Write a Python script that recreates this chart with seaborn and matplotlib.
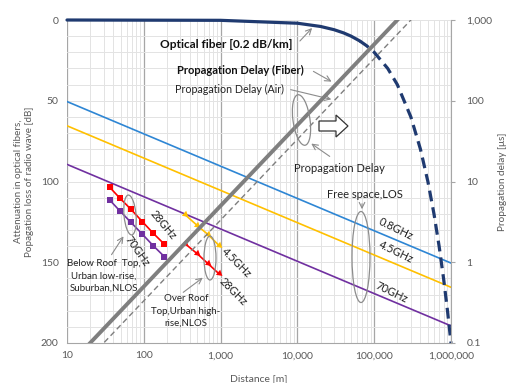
import numpy as np
import pandas as pd
import seaborn as sns
import matplotlib.pyplot as plt
from matplotlib.patches import Ellipse, FancyArrow
from matplotlib.ticker import FixedLocator, NullFormatter

# Free space (LOS) propagation loss [dB]
dist_fs = [10, 100, 1000, 10000, 100000, 1000000]
loss_08ghz = [50.5, 70.5, 90.5, 110.5, 130.5, 150.5]
loss_45ghz = [65.5, 85.5, 105.5, 125.5, 145.5, 165.5]
loss_70ghz = [89.4, 109.4, 129.4, 149.4, 169.4, 189.4]

# Optical fiber attenuation [dB]
fiber_dist_solid = [10, 1000, 10000, 20000, 30000, 40000, 50000, 65000]
fiber_att_solid = [0.002, 0.2, 2, 4, 6, 8, 10, 13]
fiber_dist_dash = [65000, 80000, 100000, 150000, 200000, 300000, 400000,
                   500000, 600000, 700000, 800000, 900000, 1000000]
fiber_att_dash = [13, 16, 20, 30, 40, 60, 80, 100, 120, 140, 160, 180, 200]

# Propagation delay [us]
delay_dist = [10, 100, 1000, 10000, 100000, 1000000]
delay_fiber = [0.05, 0.5, 5, 50, 500, 5000]
delay_air = [0.0333, 0.333, 3.33, 33.3, 333, 3333]

# Below roof top, NLOS
brt_dist = [36, 49, 68, 96, 133, 186]
brt_28ghz = [103.6, 110.4, 117.2, 124.9, 132.1, 138.9]
brt_70ghz = [111.5, 118.3, 125.3, 132.7, 139.8, 146.6]

# Over roof top, NLOS
ort_dist = [340, 490, 680, 940]
ort_45ghz = [120.3, 127.0, 132.7, 139.3]
ort_28ghz = [138.3, 144.5, 150.7, 156.9]

x_ticks = [10, 100, 1000, 10000, 100000, 1000000]
x_labels = ['10', '100', '1,000', '10,000', '100,000', '1,000,000']
y_ticks = [0, 50, 100, 150, 200]
y2_ticks = [0.1, 1, 10, 100, 1000]
y2_labels = ['0.1', '1', '10', '100', '1,000']

sns.set_style('white')
plt.rcParams['font.family'] = ['Lato', 'DejaVu Sans']

BLUE = '#2E86D4'
YELLOW = '#FFC000'
PURPLE = '#7030A0'
RED = '#FF0000'
NAVY = '#1F3A70'
GREY = '#7F7F7F'
TXT = '#595959'

fig = plt.figure(figsize=(5.1, 3.83), dpi=100)
ax = fig.add_axes([67 / 510, 1 - 343 / 383, (451 - 67) / 510, (343 - 20) / 383])
ax2 = ax.twinx()

def pt(px, py):
    # pixel position (from top-left) to inches for fig.dpi_scale_trans
    return (px / 100, (383 - py) / 100)

tr = fig.dpi_scale_trans

ax.set_xscale('log')
ax.set_xlim(10, 1000000)
ax.set_ylim(200, 0)

# grid
ax.xaxis.set_minor_locator(FixedLocator([m * 10 ** e for e in range(1, 6) for m in range(2, 10)]))
ax.xaxis.set_minor_formatter(NullFormatter())
ax.yaxis.set_minor_locator(FixedLocator(list(range(0, 201, 10))))
ax.grid(which='major', axis='x', color='#A6A6A6', lw=0.9)
ax.grid(which='minor', axis='x', color='#E3E3E3', lw=0.7)
ax.grid(which='both', axis='y', color='#E3E3E3', lw=0.7)
ax.set_axisbelow(True)

# free space lines
fs = pd.DataFrame({'d': dist_fs, '0.8': loss_08ghz, '4.5': loss_45ghz, '70': loss_70ghz})
sns.lineplot(data=fs, x='d', y='0.8', ax=ax, color=BLUE, lw=1.2)
sns.lineplot(data=fs, x='d', y='4.5', ax=ax, color=YELLOW, lw=1.2)
sns.lineplot(data=fs, x='d', y='70', ax=ax, color=PURPLE, lw=1.2)

# below roof top
sns.lineplot(x=brt_dist, y=brt_28ghz, ax=ax, color=RED, lw=1.2, marker='s',
             markersize=4.6, markeredgewidth=0)
sns.lineplot(x=brt_dist, y=brt_70ghz, ax=ax, color=PURPLE, lw=1.2, marker='s',
             markersize=4.6, markeredgewidth=0)

# over roof top
tri = (3, 0, -130)
sns.lineplot(x=ort_dist, y=ort_45ghz, ax=ax, color=YELLOW, lw=1.2, marker=tri,
             markersize=5.5, markeredgewidth=0)
sns.lineplot(x=ort_dist, y=ort_28ghz, ax=ax, color=RED, lw=1.2, marker=tri,
             markersize=5.5, markeredgewidth=0)

# optical fiber attenuation
sns.lineplot(x=fiber_dist_solid, y=fiber_att_solid, ax=ax, color=NAVY, lw=2.3,
             clip_on=False, zorder=5)
sns.lineplot(x=fiber_dist_dash, y=fiber_att_dash, ax=ax, color=NAVY, lw=2.3,
             linestyle=(0, (3.4, 1.9)), clip_on=False, zorder=5)

ax.set_xticks(x_ticks)
ax.set_xticklabels(x_labels)
ax.set_yticks(y_ticks)
ax.tick_params(axis='both', which='both', length=0, labelsize=7.5, labelcolor=TXT, pad=6)
ax.set_xlabel('Distance [m]', fontsize=7.5, color=TXT, labelpad=10)
ax.set_ylabel('Attenuation in optical fibers,\nPopagation loss of radio wave [dB]',
              fontsize=7.1, color=TXT, linespacing=1.35)
ax.yaxis.set_label_coords(-0.085, 0.5)
for s in ['top', 'left', 'right']:
    ax.spines[s].set_visible(False)
ax.spines['bottom'].set_color('#A6A6A6')
ax.spines['bottom'].set_linewidth(0.8)

# propagation delay (right axis)
ax2.set_yscale('log')
sns.lineplot(x=delay_dist, y=delay_fiber, ax=ax2, color=GREY, lw=2.8)
sns.lineplot(x=delay_dist, y=delay_air, ax=ax2, color=GREY, lw=1.0, linestyle=(0, (4, 2.5)))
ax2.set_xlim(10, 1000000)
ax2.set_ylim(0.1, 1000)
ax2.set_yticks(y2_ticks)
ax2.set_yticklabels(y2_labels)
ax2.yaxis.set_minor_locator(FixedLocator([]))
ax2.tick_params(axis='y', which='major', length=3, color='#A6A6A6', labelsize=7.5,
                labelcolor=TXT, pad=8, direction='out')
ax2.set_ylabel('Propagation delay [\u03bcs]', fontsize=7.2, color=TXT)
ax2.yaxis.set_label_coords(1.122, 0.5)
for s in ['top', 'left', 'bottom']:
    ax2.spines[s].set_visible(False)
ax2.spines['right'].set_color('#A6A6A6')
ax2.spines['right'].set_linewidth(0.8)
ax2.grid(False)

# annotations
arrow = dict(arrowstyle='->', color='#8C8C8C', lw=0.8)
fig.text(*pt(160, 45), 'Optical fiber [0.2 dB/km]', transform=tr, fontsize=8.6,
         fontweight='bold', va='center', color='#111111')
ax.annotate('', xy=pt(314, 26), xycoords=tr, xytext=pt(298, 43), textcoords=tr,
            arrowprops=arrow)
fig.text(*pt(177, 70), 'Propagation Delay (Fiber)', transform=tr, fontsize=8,
         fontweight='bold', va='center', color='#111111')
ax.annotate('', xy=pt(334, 83), xycoords=tr, xytext=pt(311, 70), textcoords=tr,
            arrowprops=arrow)
fig.text(*pt(175, 89), 'Propagation Delay (Air)', transform=tr, fontsize=7.7,
         va='center', color='#222222')
ax.annotate('', xy=pt(334, 100), xycoords=tr, xytext=pt(288, 89), textcoords=tr,
            arrowprops=arrow)

fig.add_artist(Ellipse(pt(301.5, 120), 0.17, 0.51, angle=8, transform=tr, fill=False,
                       ec='#8C8C8C', lw=0.9))
ax.annotate('', xy=pt(309, 142), xycoords=tr, xytext=pt(332, 158), textcoords=tr,
            arrowprops=arrow)
fig.text(*pt(294, 168), 'Propagation Delay', transform=tr, fontsize=8, va='center',
         color='#222222')
fig.add_artist(FancyArrow(*pt(319, 126), 0.29, 0, width=0.1, head_width=0.22,
                          head_length=0.12, length_includes_head=True, transform=tr,
                          fc='white', ec='#333333', lw=0.9))

fig.text(*pt(327, 195), 'Free space,LOS', transform=tr, fontsize=8, va='center',
         color='#222222')
ax.annotate('', xy=pt(362, 212), xycoords=tr, xytext=pt(362, 201), textcoords=tr,
            arrowprops=arrow)
fig.add_artist(Ellipse(pt(361, 257), 0.18, 0.91, transform=tr, fill=False,
                       ec='#8C8C8C', lw=0.9))
fig.text(*pt(396, 229), '0.8GHz', transform=tr, fontsize=8, va='center', ha='center',
         rotation=-26, color='#222222')
fig.text(*pt(396, 252), '4.5GHz', transform=tr, fontsize=8, va='center', ha='center',
         rotation=-26, color='#222222')
fig.text(*pt(391, 292), '70GHz', transform=tr, fontsize=8, va='center', ha='center',
         rotation=-26, color='#222222')

# below roof top
fig.add_artist(Ellipse(pt(130, 215), 0.12, 0.40, angle=5, transform=tr, fill=False,
                       ec='#8C8C8C', lw=0.9))
fig.text(*pt(163, 225), '28GHz', transform=tr, fontsize=8, va='center', ha='center',
         rotation=-50, color='#222222')
fig.text(*pt(137, 251), '70GHz', transform=tr, fontsize=8, va='center', ha='center',
         rotation=-55, color='#222222')
ax.annotate('', xy=pt(125, 234), xycoords=tr, xytext=pt(110, 257), textcoords=tr,
            arrowprops=arrow)
fig.text(*pt(104, 276), 'Below Roof  Top,\nUrban low-rise,\nSuburban,NLOS', transform=tr,
         fontsize=7, va='center', ha='center', color='#222222', linespacing=1.5)

# over roof top
fig.add_artist(Ellipse(pt(210, 258), 0.12, 0.44, transform=tr, fill=False,
                       ec='#8C8C8C', lw=0.9))
fig.text(*pt(236, 263), '4.5GHz', transform=tr, fontsize=8, va='center', ha='center',
         rotation=-45, color='#222222')
fig.text(*pt(233, 292), '28GHz', transform=tr, fontsize=8, va='center', ha='center',
         rotation=-45, color='#222222')
ax.annotate('', xy=pt(205, 276), xycoords=tr, xytext=pt(181, 294), textcoords=tr,
            arrowprops=arrow)
fig.text(*pt(186, 311), 'Over Roof\nTop,Urban high-\nrise,NLOS', transform=tr,
         fontsize=7, va='center', ha='center', color='#222222', linespacing=1.5)

fig.savefig('out.png', dpi=100)
